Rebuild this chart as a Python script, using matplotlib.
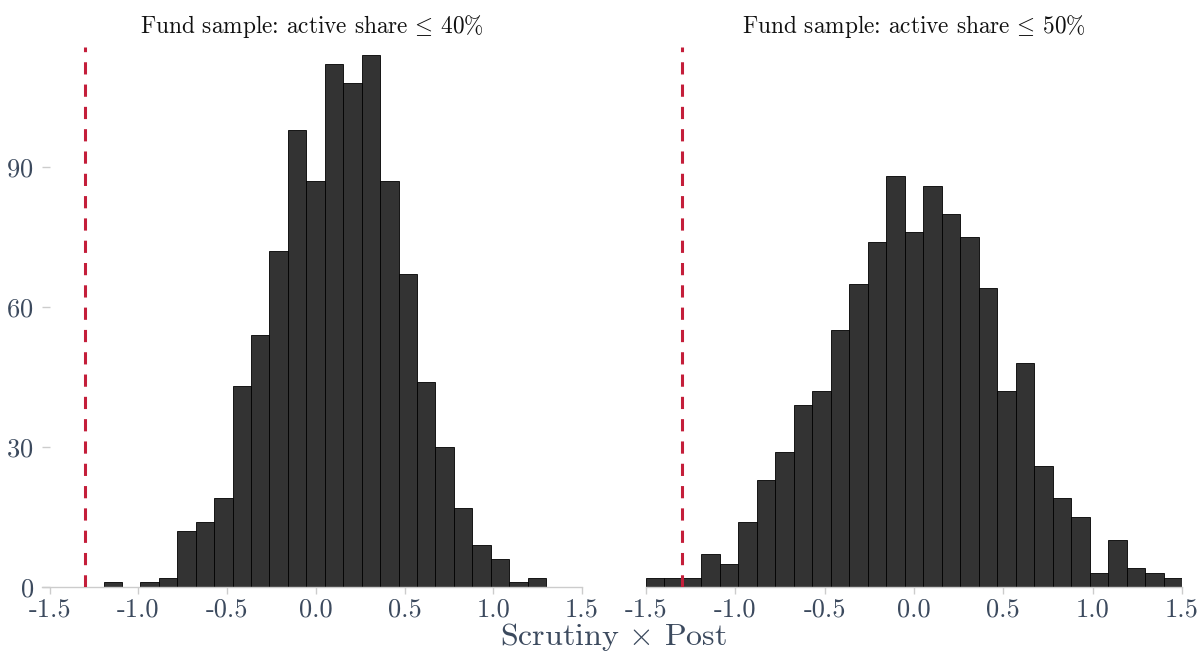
import numpy as np
import matplotlib
matplotlib.use('Agg')
import matplotlib.pyplot as plt

plt.rcParams['font.family'] = 'serif'
plt.rcParams['font.serif'] = ['cmr10', 'DejaVu Serif']
plt.rcParams['mathtext.fontset'] = 'cm'
plt.rcParams['axes.unicode_minus'] = False
plt.rcParams['axes.formatter.use_mathtext'] = True

# histogram counts
counts_40 = [1, 0, 1, 2, 12, 14, 19, 43, 54, 72, 98, 87, 112, 108, 114,
             87, 67, 44, 30, 17, 9, 6, 1, 2]
counts_50 = [2, 2, 2, 7, 5, 14, 23, 29, 39, 42, 55, 65, 74, 88, 76, 86,
             80, 75, 64, 42, 48, 26, 19, 15, 3, 10, 4, 3, 2]
# bin ranges
range_40 = (-1.196, 1.297)
range_50 = (-1.5, 1.5)
cutoff = -1.3  # red dashed line
titles = ['Fund sample: active share$\\,\\leq\\,$40%', 'Fund sample: active share$\\,\\leq\\,$50%']
xticks = [-1.5, -1.0, -0.5, 0.0, 0.5, 1.0, 1.5]
yticks = [0, 30, 60, 90]

W, H = 1197, 652
fig = plt.figure(figsize=(W / 100, H / 100), dpi=100)

def px(x0, y0, x1, y1):
    return [x0 / W, 1 - y1 / H, (x1 - x0) / W, (y1 - y0) / H]

ax1 = fig.add_axes(px(42, 47, 582, 587))
ax2 = fig.add_axes(px(646, 47, 1182, 587))

tick_col = '#3c4a5e'
for ax, counts, rng, title, xlim in [(ax1, counts_40, range_40, titles[0], (-1.543, 1.5)),
                                      (ax2, counts_50, range_50, titles[1], (-1.5, 1.5))]:
    edges = np.linspace(rng[0], rng[1], len(counts) + 1)
    ax.bar(edges[:-1], counts, width=np.diff(edges), align='edge',
           color='#333333', edgecolor='black', linewidth=0.6)
    ax.axvline(cutoff, color='#c41e3a', lw=2.2, linestyle=(0, (4, 3.3)), zorder=5)
    ax.set_xlim(*xlim)
    ax.set_ylim(0, 115.7)
    for s in ['top', 'right', 'left']:
        ax.spines[s].set_visible(False)
    ax.spines['bottom'].set_color('#cccccc')
    ax.spines['bottom'].set_linewidth(1)
    ax.set_xticks(xticks)
    ax.set_xticklabels(['%.1f' % t for t in xticks])
    ax.tick_params(axis='x', colors='#cccccc', labelcolor=tick_col, labelsize=19,
                   length=5, width=1, pad=3)
    fig.text((ax.get_position().x0 + ax.get_position().x1) / 2, 1 - 27 / H, title,
             ha='center', va='center', fontsize=16.8, color='#111111')

ax1.set_yticks(yticks)
ax1.tick_params(axis='y', colors='#cccccc', labelcolor=tick_col, labelsize=19,
                length=6, width=1, direction='in', pad=6)
ax2.set_yticks([])

fig.text(613 / W, 1 - 637 / H, 'Scrutiny $\\times$ Post', ha='center', va='center',
         fontsize=23, color=tick_col)

fig.savefig('out.png', dpi=100)
